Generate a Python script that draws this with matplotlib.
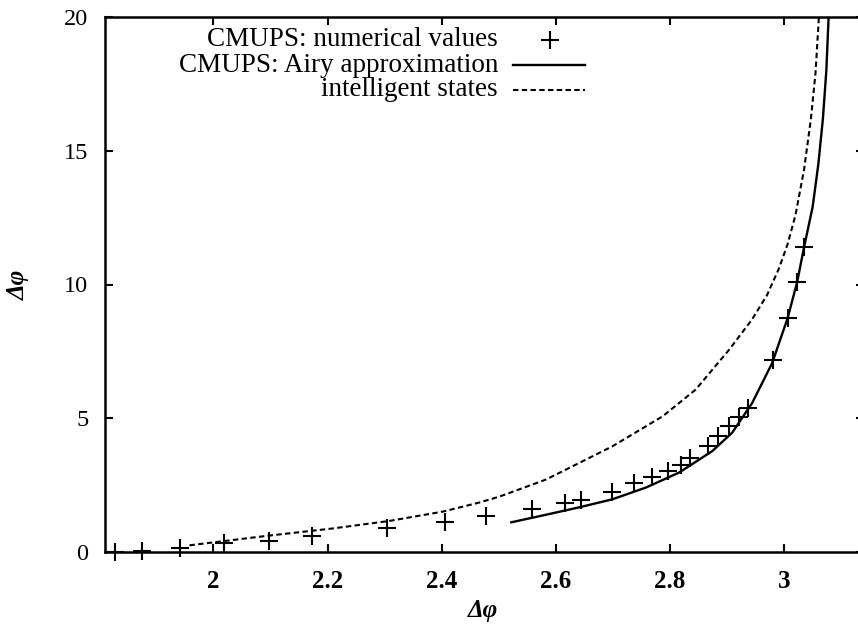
#!/usr/bin/env python3
"""Phase uncertainty: CMUPS numerical values vs Airy approximation vs intelligent states."""

import matplotlib
matplotlib.use("Agg")
import matplotlib.pyplot as plt
from matplotlib.lines import Line2D

# Data
num_x = [1.827, 1.874, 1.942, 2.018, 2.097, 2.172, 2.305, 2.405, 2.478,
         2.558, 2.616, 2.644, 2.699, 2.737, 2.769, 2.797, 2.819, 2.835,
         2.866, 2.885, 2.904, 2.921, 2.936, 2.980, 3.007, 3.023, 3.035]
num_y = [0.0, 0.05, 0.14, 0.32, 0.42, 0.58, 0.89, 1.13, 1.35,
         1.60, 1.85, 1.95, 2.26, 2.57, 2.80, 3.03, 3.27, 3.50,
         3.96, 4.33, 4.70, 5.05, 5.39, 7.19, 8.74, 10.10, 11.41]

airy_x = [2.522, 2.580, 2.641, 2.699, 2.758, 2.816, 2.874, 2.909, 2.944,
          2.979, 3.006, 3.023, 3.035, 3.050, 3.060, 3.068, 3.074, 3.078]
airy_y = [1.11, 1.38, 1.67, 1.97, 2.41, 2.97, 3.77, 4.46, 5.57,
          7.06, 8.73, 10.1, 11.4, 12.9, 14.5, 16.2, 18.0, 20.0]

intel_x = [1.958, 2.092, 2.209, 2.308, 2.402, 2.466, 2.501, 2.583, 2.699,
           2.787, 2.845, 2.904, 2.944, 2.970, 2.991, 3.006, 3.020, 3.035,
           3.047, 3.055, 3.061]
intel_y = [0.25, 0.60, 0.88, 1.16, 1.51, 1.85, 2.07, 2.71, 3.95,
           5.07, 6.07, 7.57, 8.70, 9.60, 10.6, 11.5, 12.6, 14.3,
           16.2, 17.9, 20.0]

x_ticks = [2.0, 2.2, 2.4, 2.6, 2.8, 3.0]
x_tick_labels = ["2", "2.2", "2.4", "2.6", "2.8", "3"]
y_ticks = [0, 5, 10, 15, 20]

labels = ["CMUPS: numerical values", "CMUPS: Airy approximation", "intelligent states"]

W, H = 858, 632
FONT = "Liberation Serif"

fig = plt.figure(figsize=(W / 100, H / 100), dpi=100, facecolor="white")
# axes placed in pixel terms; right edge runs slightly past the figure
left, right, top, bottom = 105, 864, 17, 552
ax = fig.add_axes([left / W, 1 - bottom / H, (right - left) / W, (bottom - top) / H])

ax.plot(intel_x, intel_y, color="black", lw=1.5, dashes=(2.6, 1.6))
ax.plot(airy_x, airy_y, color="black", lw=1.7)
ax.plot(num_x, num_y, linestyle="none", marker="+", color="black",
        markersize=12.5, markeredgewidth=1.5, clip_on=False)

ax.set_xlim(1.81, 3.14)
ax.set_ylim(0, 20)

ax.set_xticks(x_ticks)
ax.set_xticklabels(x_tick_labels, fontfamily=FONT, fontweight="bold", fontsize=18)
ax.set_yticks(y_ticks)
ax.set_yticklabels([str(v) for v in y_ticks], fontfamily=FONT, fontsize=17.5)

ax.tick_params(axis="both", direction="in", length=6, width=1.5,
               top=True, right=True, color="black")
ax.tick_params(axis="x", pad=13)
ax.tick_params(axis="y", pad=12)

for spine in ax.spines.values():
    spine.set_linewidth(1.8)
    spine.set_color("black")

ax.set_xlabel("Δφ", fontfamily=FONT, fontsize=18, fontweight="bold", style="italic")
ax.set_ylabel("Δφ", fontfamily=FONT, fontsize=18, fontweight="bold", style="italic")
ax.xaxis.set_label_coords(0.498, -0.088)
ax.yaxis.set_label_coords(-0.099, 0.499)

# gnuplot-style key: right-aligned text with sample to the right
text_right = 498
rows_y = [40, 65, 90]
for lab, ry in zip(labels, rows_y):
    fig.text(text_right / W, 1 - ry / H, lab, ha="right", va="center",
             fontfamily=FONT, fontsize=19.5, color="black")

fig.add_artist(Line2D([550 / W], [1 - rows_y[0] / H], marker="+", color="black",
                      markersize=12.5, markeredgewidth=1.5, linestyle="none",
                      transform=fig.transFigure))
fig.add_artist(Line2D([513 / W, 585 / W], [1 - rows_y[1] / H] * 2, color="black",
                      lw=1.7, transform=fig.transFigure))
fig.add_artist(Line2D([513 / W, 585 / W], [1 - rows_y[2] / H] * 2, color="black",
                      lw=1.5, dashes=(2.6, 1.6), transform=fig.transFigure))

fig.savefig("out.png", dpi=100, facecolor="white")
plt.close(fig)
